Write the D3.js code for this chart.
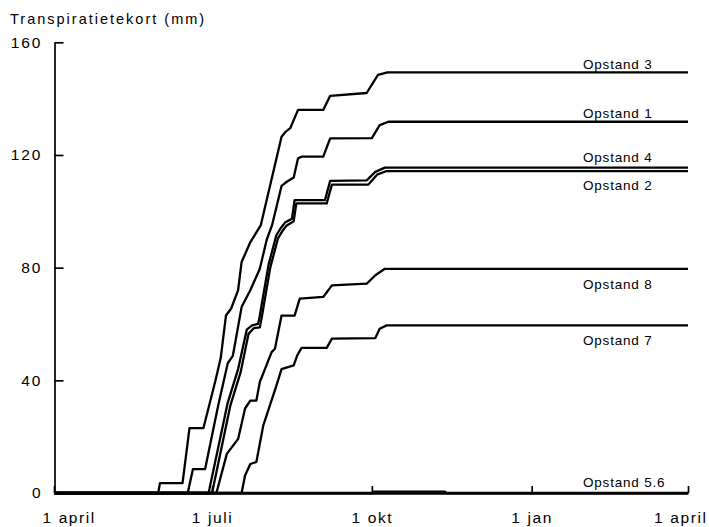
<!DOCTYPE html>
<html>
<head>
<meta charset="utf-8">
<script src="https://cdn.jsdelivr.net/npm/d3@7"></script>
<style>
  body { margin: 0; background: #fff; }
  text { font-family: "Liberation Sans", Arial, sans-serif; fill: #000; }
</style>
</head>
<body>
<div id="chart"></div>
<script>
// days counted from 1 april
const xTickDays = [0, 91, 183, 275, 365];
const xTickLabels = ["1 april", "1 juli", "1 okt", "1 jan", "1 april"];
const yTicks = [0, 40, 80, 120, 160];

const op3Days = [0, 60, 61, 74, 78, 86, 93, 96, 99, 102, 106, 108, 113, 119, 131, 133, 136, 140.5, 155, 159, 180, 186.5, 192, 365];
const op3Vals = [0, 0, 3.5, 3.5, 23, 23, 40, 48, 63, 65.5, 72, 82, 89, 95, 126.5, 128, 129.5, 136, 136, 141, 142, 148.4, 149.3, 149.3];

const op1Days = [0, 77, 80, 87, 94.5, 100, 103, 108, 113, 118.5, 122.5, 125.5, 131, 134, 138, 140.5, 142.5, 155, 159, 183, 187.5, 192.5, 365];
const op1Vals = [0, 0, 8.5, 8.5, 31, 46, 48.8, 66, 72, 79.6, 90, 95, 109, 110.5, 112, 118.8, 119.4, 119.4, 125.9, 126, 130.6, 131.8, 131.8];

const op4Days = [0, 89, 100, 106, 111, 114, 117.5, 118.5, 123.5, 128, 130.5, 133, 137, 138.5, 156, 159, 180, 185, 190.5, 365];
const op4Vals = [0, 0, 32, 44, 58, 59.5, 60, 63, 81, 91.5, 94, 96, 97.4, 104, 104, 110.8, 111, 114, 115.5, 115.5];

const op2Days = [0, 91, 101.5, 107.5, 112, 115, 118.5, 119.5, 124.5, 129, 131.5, 134, 138, 139.5, 157, 160, 181, 186, 191.5, 365];
const op2Vals = [0, 0, 31, 43, 56.5, 58.5, 58.8, 62, 80, 90.5, 93, 95, 96.5, 102.8, 102.8, 109.5, 109.5, 113, 114.3, 114.3];

const op8Days = [0, 93.5, 99.5, 106, 110, 113, 116.5, 118.5, 125.3, 127.2, 131, 138.5, 141.5, 155, 160, 180, 185, 190.5, 365];
const op8Vals = [0, 0, 13.9, 19.2, 30, 32.8, 32.8, 39.4, 50, 51.2, 63, 63, 69, 69.6, 73.7, 74.3, 77.3, 79.6, 79.6];

const op7Days = [0, 108, 110, 113, 116.5, 120.5, 128, 131, 138, 140, 142.5, 157, 160, 185, 187.5, 191.5, 365];
const op7Vals = [0, 0, 6.2, 10.3, 11, 24, 38, 44, 45.3, 48.8, 51.5, 51.5, 54.8, 55, 58.3, 59.5, 59.5];

const op56Days = [0, 183, 184, 225, 226, 365];
const op56Vals = [0, 0, 0.5, 0.5, 0, 0];

const seriesNames = ["Opstand 3", "Opstand 1", "Opstand 4", "Opstand 2", "Opstand 8", "Opstand 7", "Opstand 5.6"];
const seriesDays = [op3Days, op1Days, op4Days, op2Days, op8Days, op7Days, op56Days];
const seriesVals = [op3Vals, op1Vals, op4Vals, op2Vals, op8Vals, op7Vals, op56Vals];

// label offsets from the line end (px)
const labelDy = [-3, -4, -6, 19, 20, 20, -6];

const width = 709, height = 527;
const svg = d3.select("#chart").append("svg")
  .attr("width", width)
  .attr("height", height);

const x = d3.scaleLinear().domain([0, 365]).range([54, 688]);
const y = d3.scaleLinear().domain([0, 160]).range([493, 42.3]);

// title
svg.append("text")
  .attr("x", 10)
  .attr("y", 24)
  .style("font-size", "14.5px")
  .style("letter-spacing", "2px")
  .text("Transpiratietekort (mm)");

// y axis
const yAxis = svg.append("g")
  .attr("transform", "translate(54.5,0)")
  .call(d3.axisLeft(y).tickValues(yTicks).tickSize(-9).tickSizeOuter(0).tickPadding(12));
yAxis.select(".domain").attr("stroke", "#000").attr("stroke-width", 1.7);
yAxis.selectAll(".tick line").attr("stroke", "#000").attr("stroke-width", 1.7);
yAxis.selectAll(".tick text")
  .style("font-size", "15.5px")
  .style("letter-spacing", "2px")
  .style("font-family", "'Liberation Sans', Arial, sans-serif")
  .attr("fill", "#000");

// x axis
const xAxis = svg.append("g")
  .attr("transform", "translate(0,493)")
  .call(d3.axisBottom(x).tickValues(xTickDays).tickSize(-7).tickSizeOuter(0).tickPadding(19)
    .tickFormat((d, i) => xTickLabels[i]));
xAxis.select(".domain").attr("stroke", "#000").attr("stroke-width", 2.6);
xAxis.selectAll(".tick line").attr("stroke", "#000").attr("stroke-width", 1.7);
xAxis.selectAll(".tick text")
  .style("font-size", "15.5px")
  .style("letter-spacing", "1.6px")
  .style("font-family", "'Liberation Sans', Arial, sans-serif")
  .attr("fill", "#000");
xAxis.selectAll(".tick text").filter((d, i) => i === 0)
  .attr("text-anchor", "start").attr("x", -12);
xAxis.selectAll(".tick text").filter((d, i, n) => i === n.length - 1)
  .attr("text-anchor", "end").attr("x", 19);

// curves
const line = d3.line()
  .x(d => x(d[0]))
  .y(d => y(d[1]));

seriesNames.forEach((name, i) => {
  const pts = d3.zip(seriesDays[i], seriesVals[i]);
  svg.append("path")
    .datum(pts)
    .attr("fill", "none")
    .attr("stroke", "#000")
    .attr("stroke-width", 2.3)
    .attr("stroke-linejoin", "round")
    .attr("d", line);

  const last = pts[pts.length - 1];
  svg.append("text")
    .attr("x", 583)
    .attr("y", y(last[1]) + labelDy[i])
    .style("font-size", "13.5px")
    .style("letter-spacing", "0.8px")
    .text(name);
});
</script>
</body>
</html>
